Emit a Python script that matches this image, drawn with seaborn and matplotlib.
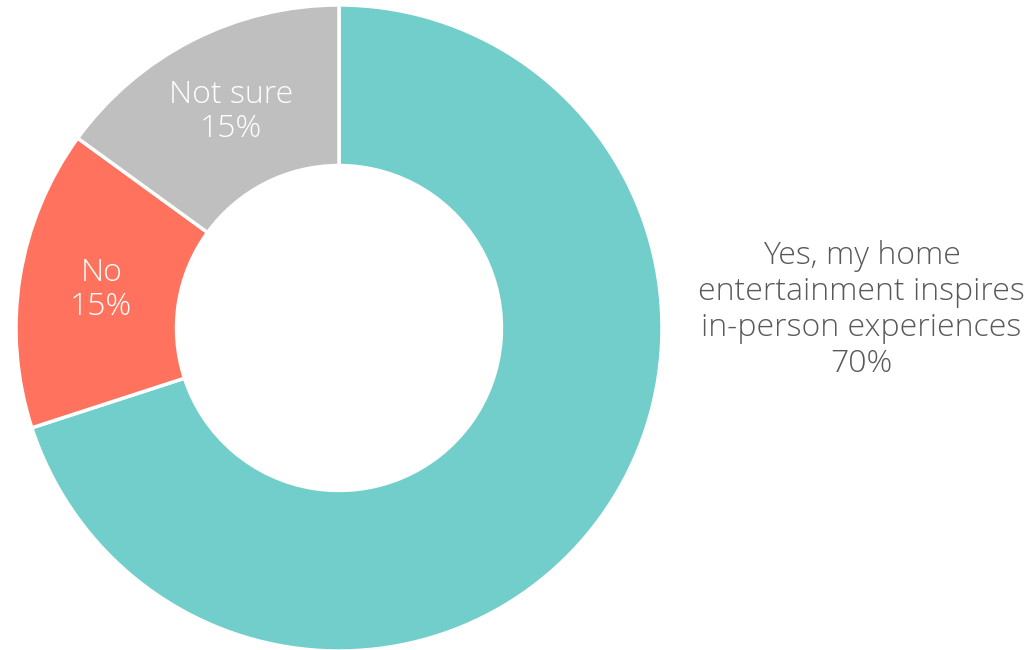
import numpy as np
import matplotlib
matplotlib.use("Agg")
import matplotlib.pyplot as plt
import seaborn as sns

categories = ["Yes, my home\nentertainment inspires\nin-person experiences", "No", "Not sure"]
shares = [70, 15, 15]
colors = ["#72CECA", "#FF735E", "#BFBFBF"]

sns.set_theme(style="white")
plt.rcParams["font.family"] = ["Open Sans", "DejaVu Sans"]

fig = plt.figure(figsize=(10.31, 6.5), dpi=100)
ax = fig.add_axes([16 / 1031, -1 / 650, 646 / 1031, 646 / 650])

wedges, _ = ax.pie(
    shares,
    colors=colors,
    startangle=90,
    counterclock=False,
    radius=1.0,
    wedgeprops=dict(width=0.497, edgecolor="white", linewidth=2.5),
)
ax.set_xlim(-1, 1)
ax.set_ylim(-1, 1)
ax.set_aspect("equal")
ax.axis("off")

# inside labels for the two small slices, at the middle of each ring segment
total = sum(shares)
start = 90.0
for i, (cat, val) in enumerate(zip(categories, shares)):
    sweep = 360.0 * val / total
    mid = np.deg2rad(start - sweep / 2)
    start -= sweep
    if i == 0:
        continue
    r = 0.75
    ax.text(r * np.cos(mid) + 0.005, r * np.sin(mid), f"{cat}\n{val}%",
            ha="center", va="center", color="white", fontsize=23,
            fontweight=300, linespacing=1.1)

# the large slice is labelled beside the ring
ax.text(1.618, 0.056, f"{categories[0]}\n{shares[0]}%",
        ha="center", va="center", color="#595959", fontsize=23,
        fontweight=300, linespacing=1.16, clip_on=False)

fig.savefig("out.png", dpi=100)
